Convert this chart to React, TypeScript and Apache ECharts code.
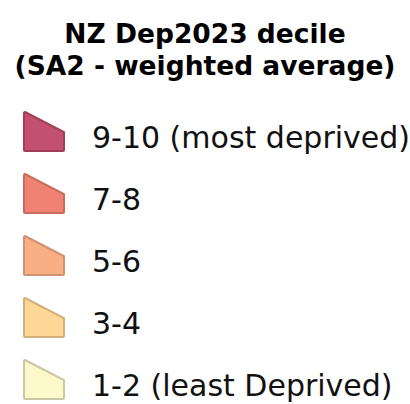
import React, { useEffect, useRef } from "react";
import * as echarts from "echarts";

const titleLines = ["NZ Dep2023 decile", "(SA2 - weighted average)"];
const categories = [
  "9-10 (most deprived)",
  "7-8",
  "5-6",
  "3-4",
  "1-2 (least Deprived)",
];
const fillColors = ["#c4506f", "#ef8272", "#f9ae83", "#fcd795", "#fdf9cb"];
const borderColors = ["#a13f58", "#c96c5e", "#cf9270", "#cfb07b", "#c9c7a2"];

// Icon shape (40x39) plus an invisible move-to point that extends the box downwards,
// so the label sits slightly lower than the icon's centre.
const ICON =
  "path://M1,0 L40,20 L40,38 Q40,39 39,39 L1,39 Q0,39 0,38 L0,1 Q0,0 1,0 Z M0,51";

export default function App() {
  const ref = useRef<HTMLDivElement>(null);
  useEffect(() => {
    if (!ref.current) return;
    const chart = echarts.init(ref.current, null, { renderer: "svg" });
    chart.setOption({
      animation: false,
      backgroundColor: "#ffffff",
      title: {
        text: titleLines.join("\n"),
        left: "center",
        top: 17,
        padding: 0,
        textStyle: {
          fontFamily: "DejaVu Sans",
          fontWeight: "bold",
          fontSize: 26.5,
          lineHeight: 32,
          color: "#000000",
        },
      },
      grid: { show: false, left: 0, right: 0, top: 0, bottom: 0 },
      xAxis: { show: false, type: "value" },
      yAxis: { show: false, type: "value" },
      legend: {
        orient: "vertical",
        left: 23,
        top: 111,
        height: 400,
        padding: 0,
        itemWidth: 40,
        itemHeight: 51,
        itemGap: 9,
        selectedMode: false,
        data: categories.map((c) => ({ name: c, icon: ICON })),
        textStyle: {
          fontFamily: "DejaVu Sans",
          fontSize: 30,
          lineHeight: 30,
          color: "#111111",
          padding: [0, 0, 0, 23],
        },
      },
      series: categories.map((c, i) => ({
        type: "scatter",
        name: c,
        data: [],
        itemStyle: {
          color: fillColors[i],
          borderColor: borderColors[i],
          borderWidth: 1.5,
          opacity: 1,
        },
      })),
    });
    return () => chart.dispose();
  }, []);
  return (
    <div
      ref={ref}
      style={{ position: "fixed", left: 0, top: 0, width: 410, height: 404 }}
    />
  );
}
